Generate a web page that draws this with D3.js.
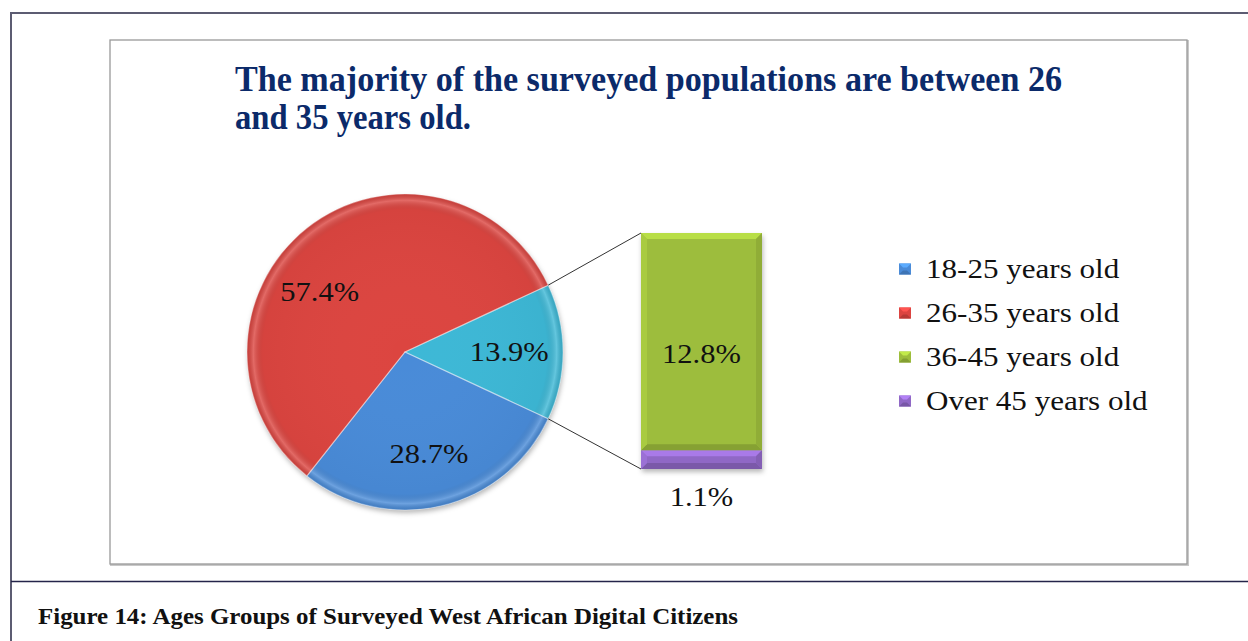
<!DOCTYPE html>
<html>
<head>
<meta charset="utf-8">
<script src="https://cdn.jsdelivr.net/npm/d3@7"></script>
<style>
  html, body { margin: 0; padding: 0; background: #ffffff; }
  svg { display: block; }
</style>
</head>
<body>
<svg id="chart" width="1248" height="641"></svg>
<script>
// ---- data ----
const titleLines = ["The majority of the surveyed populations are between 26", "and 35 years old."];
const caption = "Figure 14: Ages Groups of Surveyed West African Digital Citizens";
const categories = ["18-25 years old", "26-35 years old", "36-45 years old", "Over 45 years old"];
const values = [28.7, 57.4, 12.8, 1.1];
const categoryColors = ["#4a8bd8", "#dc4441", "#9dbd3c", "#9068c6"];
const otherColor = "#3db8d6";
// categories shown in the pie; the rest are grouped into the "other" slice
const pieCategories = ["18-25 years old", "26-35 years old"];
const barCategories = ["Over 45 years old", "36-45 years old"]; // bottom to top

const svg = d3.select("#chart");
const defs = svg.append("defs");
const serif = "'Liberation Serif', 'Times New Roman', serif";

// stretch text horizontally by the given factor
function stretch(sel, factor) {
  sel.each(function () {
    const w = this.getComputedTextLength();
    d3.select(this).attr("textLength", w * factor).attr("lengthAdjust", "spacingAndGlyphs");
  });
}
function fitWidth(sel, width) {
  sel.attr("textLength", width).attr("lengthAdjust", "spacingAndGlyphs");
}

// ---- page frame ----
svg.append("line").attr("x1", 11).attr("x2", 1248).attr("y1", 13).attr("y2", 13)
  .attr("stroke", "#5c5c72").attr("stroke-width", 2);
svg.append("line").attr("x1", 11).attr("x2", 11).attr("y1", 12).attr("y2", 641)
  .attr("stroke", "#5c5c72").attr("stroke-width", 2);
svg.append("line").attr("x1", 11).attr("x2", 1248).attr("y1", 581.5).attr("y2", 581.5)
  .attr("stroke", "#24244a").attr("stroke-width", 1.6);

// chart area box
svg.append("rect").attr("x", 111).attr("y", 41).attr("width", 1077).attr("height", 524)
  .attr("fill", "none").attr("stroke", "#c8c8c8").attr("stroke-width", 2);
svg.append("rect").attr("x", 110).attr("y", 40).attr("width", 1077).attr("height", 524)
  .attr("fill", "#ffffff").attr("stroke", "#999999").attr("stroke-width", 1.3);

// ---- title ----
const title = svg.append("g").attr("font-family", serif).attr("font-weight", "bold")
  .attr("font-size", 36).attr("fill", "#0b2a6a");
title.append("text").attr("x", 235).attr("y", 91).text(titleLines[0]).call(fitWidth, 827);
title.append("text").attr("x", 235).attr("y", 129).text(titleLines[1]).call(fitWidth, 236);

// ---- caption ----
svg.append("text").attr("x", 38).attr("y", 624)
  .attr("font-family", serif).attr("font-weight", "bold").attr("font-size", 23)
  .attr("fill", "#111").text(caption).call(fitWidth, 700);

// ---- filters ----
const shadow = defs.append("filter").attr("id", "shadow")
  .attr("x", "-20%").attr("y", "-20%").attr("width", "140%").attr("height", "140%");
shadow.append("feDropShadow").attr("dx", 1).attr("dy", 3).attr("stdDeviation", 2.5)
  .attr("flood-color", "#000").attr("flood-opacity", 0.28);

// ---- pie ----
const cx = 405, cy = 352, R = 158;
const otherValue = d3.sum(barCategories.map(c => values[categories.indexOf(c)]));
const pieData = [{ name: "Other", value: otherValue, color: otherColor }]
  .concat(pieCategories.map(c => ({ name: c, value: values[categories.indexOf(c)],
                                    color: categoryColors[categories.indexOf(c)] })));
const total = d3.sum(pieData, d => d.value);
// center the "other" slice on the right-hand side
const half = Math.PI * otherValue / total;
const pie = d3.pie().sort(null).value(d => d.value)
  .startAngle(Math.PI / 2 - half).endAngle(Math.PI / 2 - half + 2 * Math.PI);
const arcs = pie(pieData);
const arc = d3.arc().innerRadius(0).outerRadius(R);

const pieG = svg.append("g").attr("transform", `translate(${cx},${cy})`);
const slices = pieG.append("g").attr("filter", "url(#shadow)");
slices.selectAll("path").data(arcs).join("path")
  .attr("d", arc).attr("fill", d => d.data.color);

// bevelled rim
const shade = defs.append("radialGradient").attr("id", "pieShade")
  .attr("gradientUnits", "userSpaceOnUse").attr("cx", 0).attr("cy", 0).attr("r", R);
shade.append("stop").attr("offset", "0%").attr("stop-color", "#fff").attr("stop-opacity", 0.0);
shade.append("stop").attr("offset", "90%").attr("stop-color", "#000").attr("stop-opacity", 0.03);
shade.append("stop").attr("offset", "96%").attr("stop-color", "#fff").attr("stop-opacity", 0.2);
shade.append("stop").attr("offset", "100%").attr("stop-color", "#000").attr("stop-opacity", 0.1);
pieG.append("g").selectAll("path").data(arcs).join("path")
  .attr("d", arc).attr("fill", "url(#pieShade)")
  .attr("stroke", "rgba(255,255,255,0.35)").attr("stroke-width", 1.2);

// labels: the largest slice's label sits a little before its middle
const maxVal = d3.max(pieData, d => d.value);
const labelR = R * 0.66;
pieG.append("g").attr("font-family", serif).attr("font-size", 27).attr("fill", "#111")
  .selectAll("text").data(arcs).join("text")
  .attr("transform", d => {
    const f = d.value === maxVal ? 0.42 : 0.5;
    const a = d.startAngle + f * (d.endAngle - d.startAngle);
    return `translate(${labelR * Math.sin(a)},${-labelR * Math.cos(a)})`;
  })
  .attr("text-anchor", "middle").attr("dy", "0.35em")
  .text(d => d.value.toFixed(1) + "%")
  .call(stretch, 1.13);

// ---- bar of the "other" slice ----
const barX = 641, barW = 121, barTop = 233, barBottom = 469;
const y = d3.scaleLinear().domain([0, otherValue]).range([barBottom, barTop]);
let acc = 0;
const barData = barCategories.map(c => {
  const v = values[categories.indexOf(c)];
  const d = { name: c, value: v, y0: acc, y1: acc + v, color: categoryColors[categories.indexOf(c)] };
  acc += v;
  return d;
});

// connector lines from slice edges to bar corners
const otherArc = arcs[0];
const edgePt = a => [cx + R * Math.sin(a), cy - R * Math.cos(a)];
const pTop = edgePt(otherArc.startAngle), pBot = edgePt(otherArc.endAngle);
svg.append("line").attr("x1", pTop[0]).attr("y1", pTop[1]).attr("x2", barX).attr("y2", y(otherValue))
  .attr("stroke", "#333").attr("stroke-width", 1);
svg.append("line").attr("x1", pBot[0]).attr("y1", pBot[1]).attr("x2", barX).attr("y2", y(0))
  .attr("stroke", "#333").attr("stroke-width", 1);

const barG = svg.append("g");
const bars = barG.append("g").attr("filter", "url(#shadow)");
bars.selectAll("rect").data(barData).join("rect")
  .attr("x", barX).attr("width", barW)
  .attr("y", d => y(d.y1)).attr("height", d => y(d.y0) - y(d.y1))
  .attr("fill", d => d.color);
// bevel faces on each segment
barData.forEach(d => {
  const top = y(d.y1), bot = y(d.y0), h = bot - top;
  const b = Math.min(6, h / 3);
  const c = d3.color(d.color);
  barG.append("path")
    .attr("d", `M${barX},${top}h${barW}l${-b},${b}h${-(barW - 2 * b)}z`)
    .attr("fill", c.brighter(0.45));
  barG.append("path")
    .attr("d", `M${barX},${bot}h${barW}l${-b},${-b}h${-(barW - 2 * b)}z`)
    .attr("fill", c.darker(0.45));
  barG.append("path")
    .attr("d", `M${barX},${top}l${b},${b}v${h - 2 * b}l${-b},${b}z`)
    .attr("fill", c.brighter(0.2));
  barG.append("path")
    .attr("d", `M${barX + barW},${top}l${-b},${b}v${h - 2 * b}l${b},${b}z`)
    .attr("fill", c.darker(0.25));
});

// bar labels: tall segment labelled at the bar's middle, thin one below the bar
const barLabels = svg.append("g").attr("font-family", serif).attr("font-size", 27).attr("fill", "#111")
  .attr("text-anchor", "middle");
barData.forEach(d => {
  const inside = (y(d.y0) - y(d.y1)) > 40;
  barLabels.append("text")
    .attr("x", barX + barW / 2)
    .attr("y", inside ? (y(0) + y(otherValue)) / 2 + 3 : y(0) + 28)
    .attr("dy", "0.35em")
    .text(d.value.toFixed(1) + "%");
});
barLabels.selectAll("text").call(stretch, 1.13);

// ---- legend ----
const legend = svg.append("g").attr("transform", "translate(899,269)");
const rows = legend.selectAll("g").data(categories).join("g")
  .attr("transform", (d, i) => `translate(0,${i * 44})`);
rows.append("rect").attr("x", 0).attr("y", -5.5).attr("width", 12).attr("height", 11)
  .attr("fill", (d, i) => categoryColors[i]);
rows.append("path").attr("d", "M0,-5.5h12l-4,4h-4z").attr("fill", (d, i) => d3.color(categoryColors[i]).brighter(0.6));
rows.append("path").attr("d", "M0,5.5h12l-4,-4h-4z").attr("fill", (d, i) => d3.color(categoryColors[i]).darker(0.5));
rows.append("text").attr("x", 27).attr("dy", "0.35em")
  .attr("font-family", serif).attr("font-size", 27).attr("fill", "#111")
  .text(d => d).call(stretch, 1.15);
</script>
</body>
</html>
